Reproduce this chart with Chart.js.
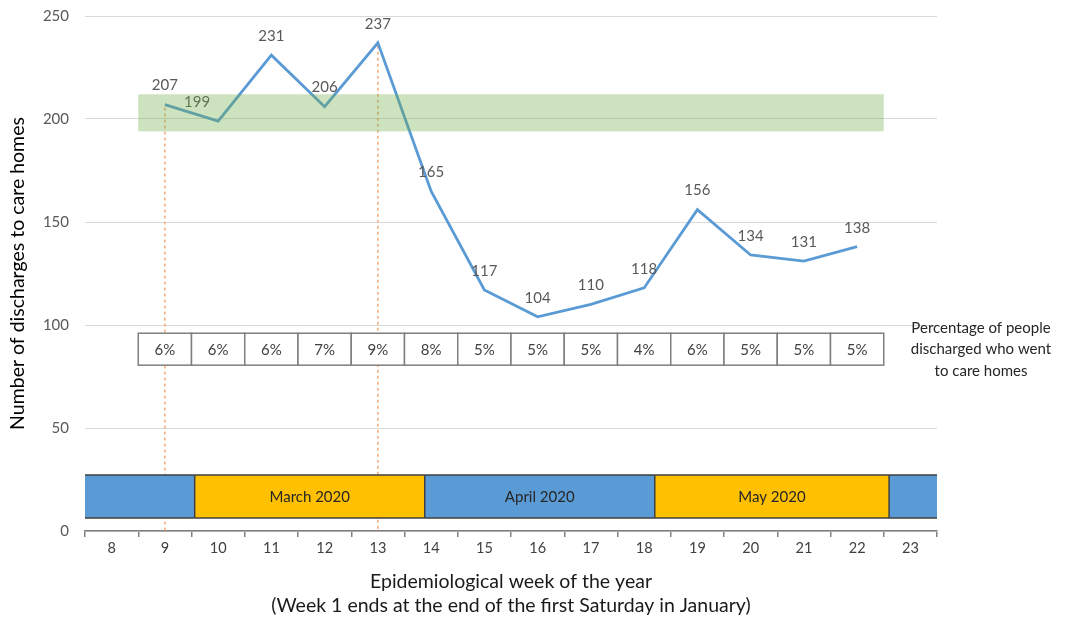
<!DOCTYPE html>
<html>
<head>
<meta charset="utf-8">
<script src="https://cdn.jsdelivr.net/npm/chart.js@4"></script>
<style>
  body { margin: 0; background: #fff; }
  #wrap { width: 1075px; height: 623px; }
</style>
</head>
<body>
<div id="wrap"><canvas id="discharges"></canvas></div>
<script>
// semaines epidemiologiques (axe x)
const weeks = ['8', '9', '10', '11', '12', '13', '14', '15', '16', '17', '18', '19', '20', '21', '22', '23'];
// nombre de sorties vers les maisons de retraite
const discharges = [null, 207, 199, 231, 206, 237, 165, 117, 104, 110, 118, 156, 134, 131, 138, null];
// pourcentage, semaines 9 a 22
const pctWeeks = [9, 10, 11, 12, 13, 14, 15, 16, 17, 18, 19, 20, 21, 22];
const pctCareHomes = ['6%', '6%', '6%', '7%', '9%', '8%', '5%', '5%', '5%', '4%', '6%', '5%', '5%', '5%'];
const pctLow = 80.5, pctHigh = 96;
// bandes des mois (en semaines)
const monthNames = ['', 'March 2020', 'April 2020', 'May 2020', ''];
const monthFrom = [7.5, 9.56, 13.88, 18.2, 22.6];
const monthTo = [9.56, 13.88, 18.2, 22.6, 23.5];
const monthLow = 6.3, monthHigh = 27.2;
// zone verte
const bandLow = 194, bandHigh = 212, bandFrom = 8.5, bandTo = 22.5;
// lignes pointillees
const markerWeeks = [9, 13];
const yTicks = [0, 50, 100, 150, 200, 250];

const FONT = 'Lato, "Open Sans", sans-serif';

function wx(x, week) { return x.getPixelForValue(week - 8); }

const extras = {
  id: 'extras',
  beforeDatasetsDraw(chart) {
    const ctx = chart.ctx, x = chart.scales.x, y = chart.scales.y;
    ctx.save();
    // lignes pointillees orange
    ctx.strokeStyle = '#F4A978';
    ctx.lineWidth = 1.5;
    ctx.setLineDash([3, 3]);
    markerWeeks.forEach(w => {
      const px = wx(x, w);
      ctx.beginPath();
      ctx.moveTo(px, y.getPixelForValue(discharges[w - 8]) + 3);
      ctx.lineTo(px, y.getPixelForValue(0));
      ctx.stroke();
    });
    ctx.setLineDash([]);
    // tableau des pourcentages
    const top = y.getPixelForValue(pctHigh), bot = y.getPixelForValue(pctLow);
    ctx.font = '15px ' + FONT;
    ctx.textAlign = 'center';
    ctx.textBaseline = 'middle';
    pctWeeks.forEach((w, i) => {
      const l = wx(x, w - 0.5), r = wx(x, w + 0.5);
      ctx.fillStyle = '#fff';
      ctx.fillRect(l, top, r - l, bot - top);
      ctx.strokeStyle = '#7F7F7F';
      ctx.lineWidth = 1.5;
      ctx.strokeRect(l, top, r - l, bot - top);
      ctx.fillStyle = '#404040';
      ctx.fillText(pctCareHomes[i], (l + r) / 2, (top + bot) / 2 + 1);
    });
    ctx.fillStyle = '#262626';
    ctx.font = '15px ' + FONT;
    const cx = x.right + 44, cy = (top + bot) / 2;
    ['Percentage of people', 'discharged who went', 'to care homes'].forEach((t, i) => {
      ctx.fillText(t, cx, cy + (i - 1) * 21.5);
    });
    // bandes des mois
    const mt = y.getPixelForValue(monthHigh), mb = y.getPixelForValue(monthLow);
    monthNames.forEach((m, i) => {
      const l = wx(x, monthFrom[i]), r = wx(x, monthTo[i]);
      ctx.fillStyle = i % 2 === 0 ? '#5B9BD5' : '#FFC000';
      ctx.fillRect(l, mt, r - l, mb - mt);
      ctx.strokeStyle = '#404040';
      ctx.lineWidth = 1.5;
      ctx.beginPath();
      ctx.moveTo(l, mt); ctx.lineTo(r, mt);
      ctx.moveTo(l, mb); ctx.lineTo(r, mb);
      if (i > 0) { ctx.moveTo(l, mt); ctx.lineTo(l, mb); }
      ctx.stroke();
      if (m) {
        ctx.fillStyle = '#262626';
        ctx.fillText(m, (l + r) / 2, (mt + mb) / 2 + 1);
      }
    });
    ctx.restore();
  },
  afterDatasetsDraw(chart) {
    const ctx = chart.ctx, x = chart.scales.x, y = chart.scales.y;
    ctx.save();
    // etiquettes des valeurs
    ctx.font = '15px ' + FONT;
    ctx.fillStyle = '#595959';
    ctx.textAlign = 'center';
    ctx.textBaseline = 'middle';
    discharges.forEach((v, i) => {
      if (v === null) return;
      const shift = v === 199 ? -21 : 0;
      ctx.fillText(String(v), x.getPixelForValue(i) + shift, y.getPixelForValue(v) - 19);
    });
    // zone verte par dessus
    ctx.fillStyle = 'rgba(112, 173, 71, 0.35)';
    const l = wx(x, bandFrom), r = wx(x, bandTo);
    const t = y.getPixelForValue(bandHigh), b = y.getPixelForValue(bandLow);
    ctx.fillRect(l, t, r - l, b - t);
    ctx.restore();
  }
};

new Chart(document.getElementById('discharges'), {
  type: 'line',
  data: {
    labels: weeks,
    datasets: [{
      data: discharges,
      borderColor: '#5B9BD5',
      borderWidth: 2.8,
      pointRadius: 0,
      tension: 0,
    }]
  },
  options: {
    responsive: true,
    maintainAspectRatio: false,
    animation: false,
    layout: { padding: { top: 16, right: 138, bottom: 0, left: 0 } },
    plugins: { legend: { display: false }, tooltip: { enabled: false } },
    scales: {
      x: {
        type: 'category',
        offset: true,
        afterFit: s => { s.height = 92; },
        grid: { drawOnChartArea: false, drawTicks: true, tickLength: 6, color: '#808080', lineWidth: 1.5, offset: true },
        border: { display: true, color: '#808080', width: 1.5 },
        ticks: { color: '#404040', font: { family: FONT, size: 14.5 }, padding: 3, maxRotation: 0, autoSkip: false },
        title: {
          display: true,
          text: ['Epidemiological week of the year', '(Week 1 ends at the end of the first Saturday in January)'],
          color: '#1a1a1a',
          font: { family: FONT, size: 19.5, lineHeight: 1.23 },
          padding: { top: 0, bottom: 5 }
        }
      },
      y: {
        min: 0,
        max: 250,
        afterFit: s => { s.width = 85; s.paddingTop = 4; s.paddingBottom = 4; },
        afterBuildTicks: s => { s.ticks = yTicks.map(v => ({ value: v })); },
        grid: { color: '#D9D9D9', drawTicks: false },
        border: { display: false },
        ticks: { color: '#595959', font: { family: FONT, size: 15 }, padding: 16 },
        title: {
          display: true,
          text: 'Number of discharges to care homes',
          color: '#000',
          font: { family: FONT, size: 19.5 },
          padding: { top: 6, bottom: 0 }
        }
      }
    }
  },
  plugins: [extras]
});
</script>
</body>
</html>
